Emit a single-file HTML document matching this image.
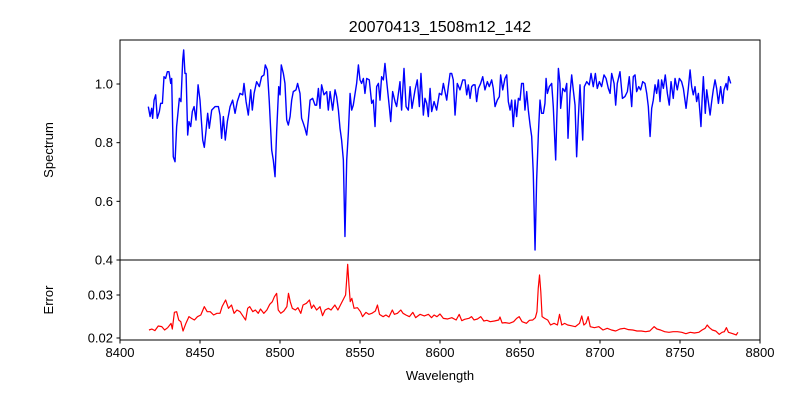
<!DOCTYPE html>
<html><head><meta charset="utf-8"><style>
body{margin:0;background:#fff;}
svg{display:block;font-family:"Liberation Sans","DejaVu Sans",sans-serif;}
</style></head><body>
<svg id="chart" width="800" height="400" viewBox="0 0 800 400">
<rect width="800" height="400" fill="#fff"/>
<defs>
<clipPath id="clipTop"><rect x="120" y="40" width="640" height="220"/></clipPath>
<clipPath id="clipBot"><rect x="120" y="260" width="640" height="80"/></clipPath>
</defs>
<text x="440" y="32" font-size="16" text-anchor="middle">20070413_1508m12_142</text>
<g id="topPlot"></g>
<g id="botPlot"></g>
<g id="axes"></g>
<text transform="translate(53,150) rotate(-90)" font-size="13" text-anchor="middle">Spectrum</text>
<text transform="translate(53,300) rotate(-90)" font-size="13" text-anchor="middle">Error</text>
<text x="440" y="380" font-size="13" text-anchor="middle">Wavelength</text>
</svg>
<script>
const specWl=[8417.7,8418.8,8419.8,8420.4,8421.3,8422.3,8423.3,8424.6,8425.4,8426.5,8427.5,8428.5,8429.6,8430.6,8431.7,8432.3,8433.3,8434.4,8435.4,8437.1,8438.1,8439.2,8439.8,8440.6,8441.3,8442.3,8443.1,8444.2,8445.2,8446.3,8447.5,8448.8,8450.0,8451.7,8452.7,8453.8,8454.8,8455.8,8457.3,8459.4,8461.5,8462.5,8463.5,8464.6,8465.8,8467.1,8468.8,8470.4,8471.9,8473.3,8475.0,8476.7,8477.5,8478.8,8480.2,8481.7,8482.7,8483.8,8485.4,8487.1,8488.5,8490.0,8490.8,8492.1,8493.3,8494.8,8495.8,8496.9,8497.9,8499.2,8500.0,8500.8,8502.1,8503.1,8504.2,8505.2,8506.3,8507.3,8508.3,8510.0,8511.0,8512.5,8513.5,8514.6,8515.6,8516.7,8517.7,8518.8,8520.4,8521.9,8522.9,8524.0,8525.0,8526.0,8527.5,8529.2,8530.2,8531.3,8532.9,8534.4,8535.4,8536.5,8537.5,8538.5,8539.6,8540.6,8541.7,8542.7,8543.8,8544.8,8545.8,8547.9,8549.0,8550.0,8551.0,8552.1,8553.1,8554.2,8555.8,8557.3,8558.3,8559.4,8560.4,8561.5,8562.5,8563.5,8564.6,8565.6,8566.7,8568.3,8569.2,8570.4,8571.9,8572.9,8575.0,8576.0,8577.5,8578.8,8580.2,8581.3,8582.5,8584.4,8585.8,8587.1,8588.1,8589.6,8590.6,8591.7,8592.7,8593.8,8594.8,8596.3,8597.9,8599.6,8601.0,8602.1,8604.2,8605.2,8606.3,
8607.3,8608.3,8609.4,8610.8,8612.5,8614.2,8615.6,8616.7,8617.7,8618.8,8619.8,8620.8,8621.9,8622.9,8624.0,8625.4,8626.7,8628.1,8629.6,8630.8,8632.3,8633.3,8634.4,8635.8,8637.1,8637.9,8639.2,8640.6,8641.7,8642.7,8643.8,8644.8,8645.8,8646.9,8647.9,8649.0,8650.0,8651.0,8652.1,8653.1,8654.2,8655.2,8656.3,8657.3,8658.3,8659.4,8660.4,8661.5,8662.5,8663.5,8664.6,8665.6,8666.3,8667.1,8668.3,8669.8,8670.8,8672.3,8672.9,8674.0,8675.0,8675.4,8676.7,8678.1,8679.2,8680.0,8681.3,8682.3,8683.3,8684.4,8685.4,8686.5,8687.5,8689.2,8690.2,8691.7,8693.3,8694.4,8695.8,8697.1,8698.3,8699.6,8701.0,8702.5,8703.8,8705.2,8706.3,8707.3,8708.8,8709.8,8710.8,8712.5,8714.0,8715.6,8717.1,8718.3,8719.8,8720.8,8721.9,8722.9,8724.2,8725.4,8726.7,8728.1,8729.2,8730.2,8731.3,8732.3,8733.3,8734.4,8735.4,8736.5,8737.5,8738.5,8739.6,8740.8,8742.1,8743.3,8744.4,8745.8,8746.9,8748.3,8749.6,8751.0,8752.1,8753.8,8755.2,8756.3,8757.3,8758.3,8759.4,8760.4,8761.5,8762.5,8763.1,8763.8,8764.6,8765.8,8766.7,8767.7,8768.8,8769.8,8770.8,8771.9,8772.9,8774.0,8775.4,8776.7,8777.5,8778.8,8779.6,8780.4,8781.7];
const specFlux=[.923,.889,.917,.883,.945,.963,.883,.906,.934,.934,1.025,1.019,1.042,1.042,1.002,1.019,.752,.735,.855,.951,.940,1.082,1.116,1.036,1.036,.826,.872,.855,.906,.923,.877,.997,.945,.809,.784,.843,.900,.849,.911,.923,.923,.894,.815,.889,.809,.872,.923,.945,.900,.940,.968,.963,1.002,.940,.894,.980,.911,.968,1.008,.991,1.025,1.031,1.065,1.048,.940,.775,.741,.684,.837,.991,.963,1.065,1.036,1.002,.877,.860,.889,.945,.974,.980,1.002,.968,.883,.866,.849,.826,.877,.945,.951,.928,.928,.985,.917,.997,.963,.974,.911,.974,.911,.980,.957,.911,.849,.809,.741,.480,.741,.832,.968,.911,.928,1.002,1.065,1.014,1.002,1.019,.968,1.019,1.014,.934,.945,.855,.991,1.002,.945,1.025,1.014,1.070,1.008,.923,.872,.974,.940,.923,1.008,.911,1.053,.923,.911,.991,.917,.980,1.014,.923,1.036,.894,.951,.934,.889,.985,.906,.940,.911,.968,.963,1.002,.945,.991,1.036,
1.036,1.014,.894,1.002,.980,1.014,1.014,.963,.997,.951,.991,.997,.997,.940,.985,1.002,1.025,.980,1.008,.991,1.014,.985,.923,.945,.957,1.031,.980,1.019,1.031,.940,.911,.945,.855,.945,.889,.951,.945,1.002,1.002,.911,.974,.911,.860,.821,.696,.434,.673,.832,.945,.900,.900,.934,1.019,.968,.991,1.002,.923,.741,.866,1.053,1.002,.917,.985,.974,1.002,.815,.968,1.031,.980,.928,.752,.889,.997,.809,.991,1.008,.997,1.036,.991,1.036,.985,1.008,.991,1.031,1.019,.985,.968,1.036,1.002,.928,1.002,1.042,.951,.957,.974,1.025,.923,1.025,1.031,.974,.991,.980,1.008,1.002,.968,.923,.821,.917,.945,.997,.968,1.014,.940,1.014,.985,1.031,.968,.928,1.008,.951,1.019,.980,1.019,1.008,.985,.917,.985,1.048,.991,.963,.991,.940,.968,.900,.855,.945,1.025,.900,.980,.940,.894,.940,.980,1.014,.985,.934,.991,.934,.980,1.002,.980,1.025,1.002];
const errWl=[8418.1,8419.9,8421.8,8423.9,8426.1,8427.9,8429.8,8431.9,8432.7,8434.0,8435.4,8436.7,8438.0,8439.4,8441.2,8443.1,8444.7,8446.5,8448.4,8450.5,8452.7,8454.5,8456.4,8458.5,8460.6,8462.5,8463.8,8466.0,8467.8,8469.7,8471.3,8473.1,8475.0,8477.1,8478.5,8479.8,8481.1,8483.0,8484.6,8486.4,8487.8,8489.9,8491.8,8493.6,8495.2,8496.5,8497.9,8498.9,8500.5,8502.4,8504.3,8505.3,8506.4,8507.7,8509.6,8511.2,8513.0,8514.4,8516.5,8518.4,8519.7,8521.0,8522.9,8525.0,8526.6,8528.2,8530.3,8531.9,8534.3,8536.2,8538.3,8539.9,8541.0,8541.8,8542.3,8543.1,8543.9,8544.9,8546.3,8548.4,8550.3,8551.6,8553.7,8555.6,8557.4,8559.6,8560.9,8562.2,8564.4,8566.2,8568.1,8570.2,8571.5,8573.4,8575.5,8576.9,8578.7,8580.9,8583.0,8584.8,8587.5,8590.2,8592.8,8594.7,8596.3,8598.1,8600.0,8602.1,8604.8,8607.4,8610.1,8612.0,8613.6,8615.4,8618.1,8619.7,8621.3,8623.4,8625.5,8627.4,8629.3,8631.4,8634.0,8636.7,8637.5,8638.8,8640.7,8643.4,8646.0,8647.9,8649.5,8651.3,8654.0,8655.9,8658.0,8659.6,8660.6,8661.4,8662.2,8663.0,8663.8,8665.4,8667.3,8669.1,8671.3,8673.4,8674.7,8676.1,8677.9,8679.8,8681.9,8684.6,8687.2,8688.6,8689.9,8691.2,8692.6,8693.9,8696.5,8699.2,8701.9,8704.5,8707.2,8709.8,8712.5,8715.2,8717.8,8720.5,8723.1,8725.8,8728.5,8731.1,8733.8,8735.6,8737.8,8740.4,8743.1,8745.7,8748.4,8751.1,8753.7,8756.4,8759.0,8761.7,8763.8,8765.7,8767.0,8768.4,8770.2,8772.3,8774.5,8776.3,8777.7,8779.0,8780.3,8783.0,8785.1,8786.2];
const errVal=[.02186,.02209,.02171,.02279,.02264,.02186,.0224,.02341,.02209,.02597,.02612,.02419,.0238,.02163,.02341,.02496,.02457,.02419,.02496,.02535,.02729,.02612,.02612,.02535,.02574,.02574,.02729,.02884,.0269,.02767,.02574,.02651,.02612,.02496,.02419,.0269,.02729,.02612,.02651,.02574,.02674,.02574,.02651,.02783,.02845,.02961,.03039,.02651,.02574,.02628,.02729,.03039,.02845,.0269,.02651,.02705,.02574,.02767,.02806,.02884,.0269,.02767,.02651,.02729,.02519,.02651,.0269,.02651,.02767,.02651,.02806,.02922,.03,.03426,.03713,.03233,.02845,.02922,.0269,.02705,.02612,.02496,.02597,.0255,.02574,.02628,.02767,.0255,.02496,.02535,.02488,.02651,.0255,.02574,.02651,.02574,.02535,.02496,.02597,.02473,.0255,.02512,.0255,.02473,.02535,.02496,.02558,.02457,.02442,.02473,.02419,.0255,.02403,.02434,.02457,.02496,.02419,.02442,.02496,.02395,.02411,.0238,.02395,.02419,.02488,.02349,.02357,.02341,.0238,.02457,.02496,.0238,.02341,.02411,.02419,.02473,.02612,.03155,.03465,.03078,.02496,.02457,.02419,.02302,.02341,.02302,.0255,.02302,.02341,.02302,.02287,.02264,.02341,.02512,.02302,.02341,.02496,.02264,.0224,.02264,.02186,.02225,.02186,.02163,.02209,.02225,.02194,.02186,.02163,.02163,.02147,.02163,.02264,.02209,.02186,.02147,.02132,.02147,.02147,.02132,.02101,.02132,.02116,.02132,.02186,.02225,.02302,.0224,.02186,.02163,.02085,.02132,.02147,.0224,.02132,.02101,.0207,.02132];
const xTicks=[8400,8450,8500,8550,8600,8650,8700,8750,8800];
const specTicks=[0.4,0.6,0.8,1.0];
const errTicks=[0.02,0.03];

const NS='http://www.w3.org/2000/svg';
const X0=120,X1=760,XMIN=8400,XMAX=8800;
const xs=v=>X0+(v-XMIN)/(XMAX-XMIN)*(X1-X0);
const ysTop=v=>260-(v-0.4)/0.6*176;
const ysBot=v=>338-(v-0.02)/0.01*43;
function mk(tag,attrs,parent){const e=document.createElementNS(NS,tag);for(const k in attrs)e.setAttribute(k,attrs[k]);parent.appendChild(e);return e;}
function pathFrom(xa,ya,ys){let d='';for(let i=0;i<Math.min(xa.length,ya.length);i++){d+=(i?'L':'M')+xs(xa[i]).toFixed(2)+','+ys(ya[i]).toFixed(2);}return d;}
const topG=document.getElementById('topPlot'),botG=document.getElementById('botPlot'),axG=document.getElementById('axes');
const sp=mk('path',{d:pathFrom(specWl,specFlux,ysTop),fill:'none',stroke:'#0000ff','stroke-width':1.4,'stroke-linejoin':'round','clip-path':'url(#clipTop)'},topG);


const ep=mk('path',{d:pathFrom(errWl,errVal,ysBot),fill:'none',stroke:'#ff0000','stroke-width':1.2,'stroke-linejoin':'round','clip-path':'url(#clipBot)'},botG);


const f1=mk('rect',{x:120,y:40,width:640,height:220,fill:'none',stroke:'#000','stroke-width':1},axG);


const f2=mk('rect',{x:120,y:260,width:640,height:80,fill:'none',stroke:'#000','stroke-width':1},axG);


xTicks.forEach(t=>{const x=xs(t);
 mk('line',{x1:x,y1:340,x2:x,y2:343.5,stroke:'#000','stroke-width':1},axG);
 const tx=mk('text',{x:x,y:357,'font-size':13,'text-anchor':'middle'},axG);tx.textContent=t;
 
 });
specTicks.forEach(t=>{const y=ysTop(t);
 mk('line',{x1:116.5,y1:y,x2:120,y2:y,stroke:'#000','stroke-width':1},axG);
 const tx=mk('text',{x:113,y:y+4.5,'font-size':13,'text-anchor':'end'},axG);tx.textContent=t.toFixed(1);
 
 });
errTicks.forEach(t=>{const y=ysBot(t);
 mk('line',{x1:116.5,y1:y,x2:120,y2:y,stroke:'#000','stroke-width':1},axG);
 const tx=mk('text',{x:113,y:y+4.5,'font-size':13,'text-anchor':'end'},axG);tx.textContent=t.toFixed(2);
 
 });
</script>
</body></html>
